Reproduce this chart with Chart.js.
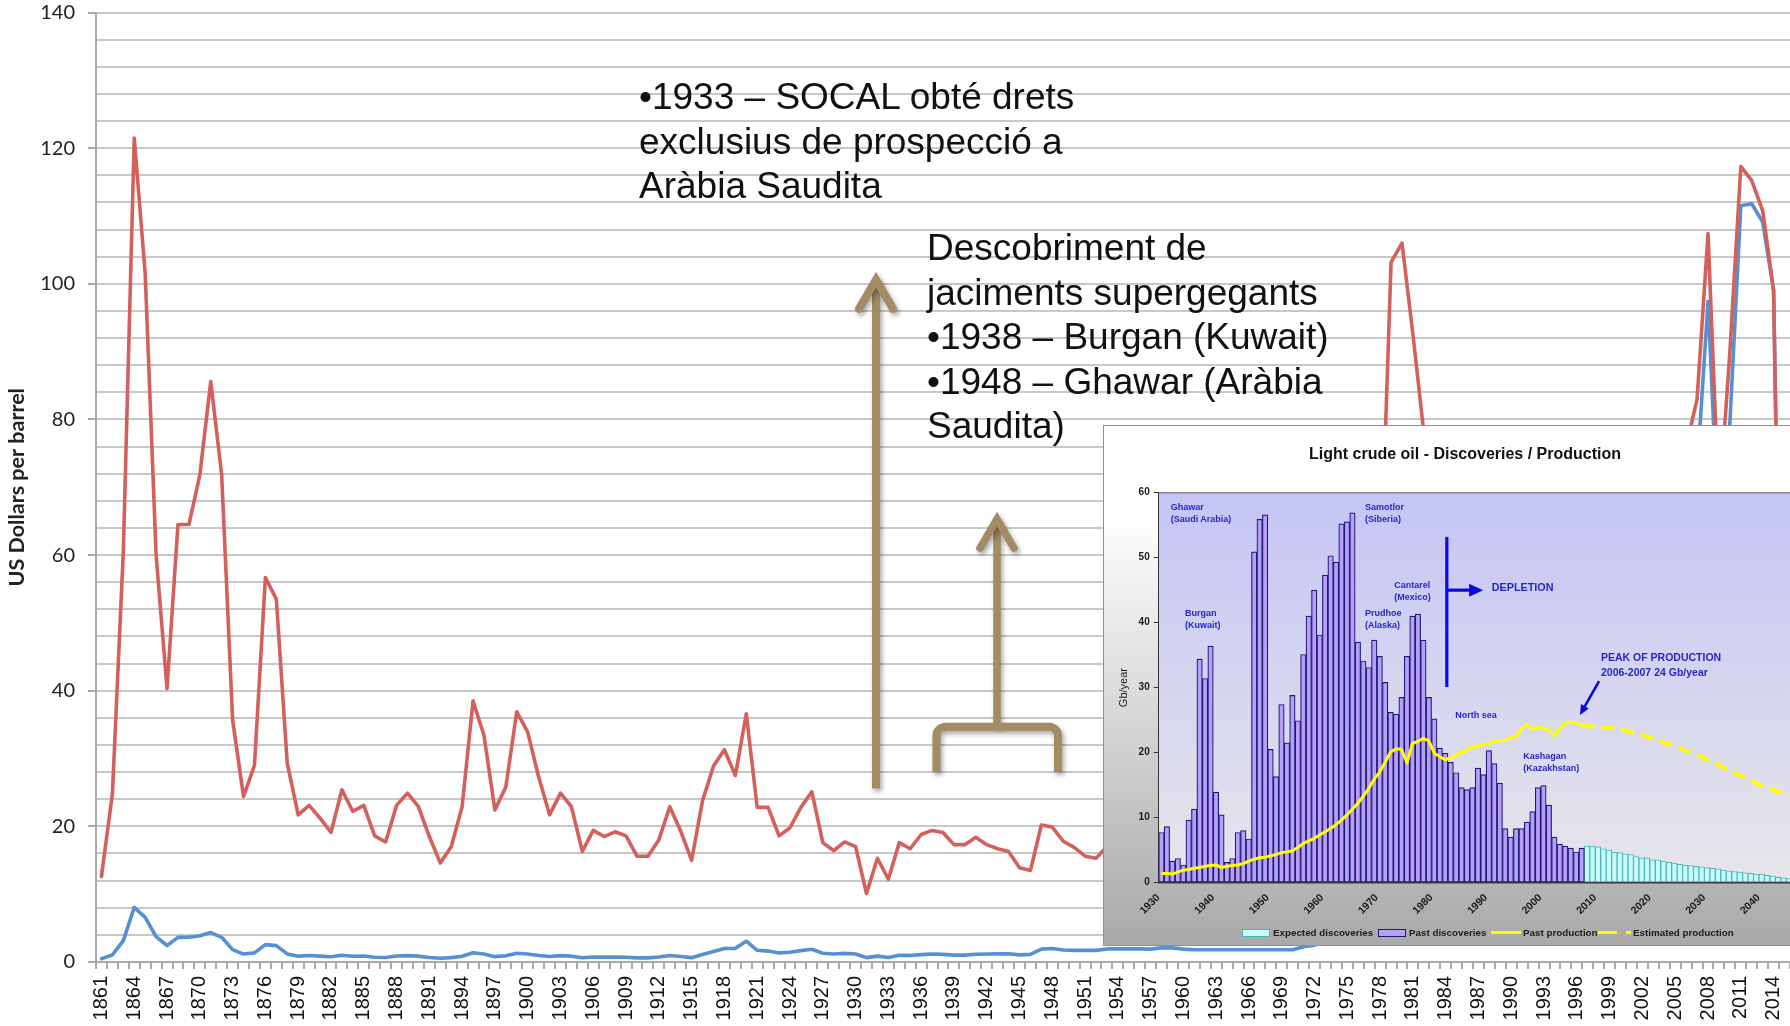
<!DOCTYPE html>
<html>
<head>
<meta charset="utf-8">
<script src="https://cdn.jsdelivr.net/npm/chart.js@4.4.1/dist/chart.umd.min.js"></script>
<style>
html,body{margin:0;padding:0;background:#fff;overflow:hidden;}
body{width:1790px;height:1026px;position:relative;font-family:"Liberation Sans",Arial,sans-serif;}
#c1{position:absolute;left:0;top:0;}
.note{position:absolute;font-family:"Liberation Sans",Arial,sans-serif;font-size:37px;line-height:44.6px;color:#111;white-space:nowrap;}
#inset{position:absolute;left:1104px;top:426px;width:722px;height:519px;outline:1px solid #8f8f8f;
  background:linear-gradient(to bottom,#ffffff 0%,#ffffff 17%,#a9a9a9 100%);}
#c2{position:absolute;left:0;top:0;}
.ititle{position:absolute;left:0;top:18px;width:722px;text-align:center;font-weight:bold;font-size:16px;line-height:20px;color:#111;}
.ann{position:absolute;font-weight:bold;font-size:9px;line-height:11.7px;color:#2626c4;white-space:nowrap;}
.leg{position:absolute;top:500px;font-weight:bold;font-size:9.8px;line-height:13px;color:#1a1a1a;white-space:nowrap;}
.sw{position:absolute;box-sizing:border-box;}
</style>
</head>
<body>
<canvas id="c1" width="1790" height="1026"></canvas>

<div class="note" style="left:639px;top:75px;">•1933 – SOCAL obté drets<br>exclusius de prospecció a<br>Aràbia Saudita</div>
<div class="note" style="left:927px;top:226px;">Descobriment de<br>jaciments supergegants<br>•1938 – Burgan (Kuwait)<br>•1948 – Ghawar (Aràbia<br>Saudita)</div>

<div id="inset">
  <canvas id="c2" width="722" height="519"></canvas>
  <div class="ititle">Light crude oil - Discoveries / Production</div>
  <div class="ann" style="left:66.7px;top:75.9px;">Ghawar<br>(Saudi Arabia)</div>
  <div class="ann" style="left:81px;top:182.2px;">Burgan<br>(Kuwait)</div>
  <div class="ann" style="left:261px;top:76.2px;">Samotlor<br>(Siberia)</div>
  <div class="ann" style="left:290.3px;top:154.2px;">Cantarel<br>(Mexico)</div>
  <div class="ann" style="left:261px;top:182.2px;">Prudhoe<br>(Alaska)</div>
  <div class="ann" style="left:351.3px;top:283.9px;">North sea</div>
  <div class="ann" style="left:419.3px;top:324.9px;">Kashagan<br>(Kazakhstan)</div>
  <div class="ann" style="left:387.7px;top:155px;font-size:10.8px;line-height:13px;">DEPLETION</div>
  <div class="ann" style="left:497px;top:224.4px;font-size:10.5px;line-height:14.6px;">PEAK OF PRODUCTION<br>2006-2007 24 Gb/year</div>

  <div class="sw" style="left:137.7px;top:503px;width:28px;height:7.5px;background:#c8fcfc;border:1px solid #4cb4b4;"></div>
  <div class="leg" style="left:169px;">Expected discoveries</div>
  <div class="sw" style="left:274px;top:503px;width:28px;height:7.5px;background:#b79ff7;border:1.5px solid #1c1c78;"></div>
  <div class="leg" style="left:305px;">Past discoveries</div>
  <div class="sw" style="left:387px;top:505px;width:30px;height:3px;background:#ffff00;"></div>
  <div class="leg" style="left:419px;">Past production</div>
  <div class="sw" style="left:494px;top:504.7px;width:19px;height:3.5px;background:#ffff00;"></div>
  <div class="sw" style="left:522px;top:504.7px;width:5px;height:3.5px;background:#ffff00;"></div>
  <div class="leg" style="left:529px;">Estimated production</div>
</div>

<script>
// ---------------- Main chart data ----------------
const years = [
1861,1862,1863,1864,1865,1866,1867,1868,1869,1870,
1871,1872,1873,1874,1875,1876,1877,1878,1879,1880,
1881,1882,1883,1884,1885,1886,1887,1888,1889,1890,
1891,1892,1893,1894,1895,1896,1897,1898,1899,1900,
1901,1902,1903,1904,1905,1906,1907,1908,1909,1910,
1911,1912,1913,1914,1915,1916,1917,1918,1919,1920,
1921,1922,1923,1924,1925,1926,1927,1928,1929,1930,
1931,1932,1933,1934,1935,1936,1937,1938,1939,1940,
1941,1942,1943,1944,1945,1946,1947,1948,1949,1950,
1951,1952,1953,1954,1955,1956,1957,1958,1959,1960,
1961,1962,1963,1964,1965,1966,1967,1968,1969,1970,
1971,1972,1973,1974,1975,1976,1977,1978,1979,1980,
1981,1982,1983,1984,1985,1986,1987,1988,1989,1990,
1991,1992,1993,1994,1995,1996,1997,1998,1999,2000,
2001,2002,2003,2004,2005,2006,2007,2008,2009,2010,
2011,2012,2013,2014,2015];

// real price (US$ per barrel, constant dollars) - red line
const realPrice = [
12.6,24.8,60.5,121.5,101.5,60.0,40.3,64.5,64.5,71.8,
85.6,71.8,35.7,24.4,29.0,56.7,53.5,29.3,21.7,23.1,
21.2,19.1,25.4,22.2,23.1,18.6,17.7,23.1,24.9,22.9,
18.5,14.6,17.0,22.9,38.5,33.4,22.4,25.8,36.9,33.9,
27.3,21.7,24.9,22.9,16.3,19.4,18.5,19.2,18.6,15.6,
15.6,18.0,22.9,19.3,15.0,23.8,28.9,31.3,27.5,36.6,
22.8,22.8,18.6,19.8,22.8,25.1,17.6,16.4,17.7,17.0,
10.1,15.3,12.2,17.6,16.7,18.8,19.4,19.1,17.3,17.3,
18.4,17.3,16.7,16.3,13.9,13.5,20.2,19.9,17.8,16.9,
15.6,15.3,17.0,17.0,16.9,16.6,15.9,17.0,16.8,15.2,
14.2,14.1,13.9,13.7,13.5,13.1,12.7,12.2,11.6,10.9,
13.0,14.0,17.5,55.4,50.6,53.1,54.2,55.0,103.2,106.0,
92.5,78.0,71.0,66.3,61.3,31.5,38.8,30.2,35.2,43.5,
35.2,33.0,28.1,25.6,26.8,31.6,28.5,18.7,25.9,39.7,
33.1,33.4,37.6,48.6,67.0,76.0,83.0,107.4,67.0,90.0,
117.3,115.2,110.8,99.0,4.0];

// nominal price (money of the day) - blue line
const nominalPrice = [
0.49,1.05,3.15,8.06,6.59,3.74,2.41,3.63,3.64,3.86,
4.34,3.64,1.83,1.17,1.35,2.56,2.42,1.19,0.86,0.95,
0.86,0.78,1.00,0.84,0.88,0.71,0.67,0.88,0.94,0.87,
0.67,0.56,0.64,0.84,1.36,1.18,0.79,0.91,1.29,1.19,
0.96,0.80,0.94,0.86,0.62,0.73,0.72,0.72,0.70,0.61,
0.61,0.74,0.95,0.81,0.64,1.10,1.56,1.98,2.01,3.07,
1.73,1.61,1.34,1.43,1.68,1.88,1.30,1.17,1.27,1.19,
0.65,0.87,0.67,1.00,0.97,1.09,1.18,1.13,1.02,1.02,
1.14,1.19,1.20,1.21,1.05,1.12,1.90,1.99,1.78,1.71,
1.71,1.71,1.93,1.93,1.93,1.93,1.90,2.08,2.08,1.90,
1.80,1.80,1.80,1.80,1.80,1.80,1.80,1.80,1.80,1.80,
2.24,2.48,3.29,11.58,11.53,12.80,13.92,14.02,31.61,36.83,
35.93,32.97,29.55,28.78,27.56,14.43,18.44,14.92,18.23,23.73,
20.00,19.32,16.97,15.82,17.02,20.67,19.09,12.72,17.97,28.50,
24.44,25.02,28.83,38.27,54.52,65.14,72.39,97.4,61.67,79.5,
111.5,111.8,109.1,99.0,4.0];

const xTickLabels = [1861,1864,1867,1870,1873,1876,1879,1882,1885,1888,1891,1894,1897,1900,1903,1906,1909,1912,1915,1918,1921,1924,1927,1930,1933,1936,1939,1942,1945,1948,1951,1954,1957,1960,1963,1966,1969,1972,1975,1978,1981,1984,1987,1990,1993,1996,1999,2002,2005,2008,2011,2014];
const yTickLabels = [0,20,40,60,80,100,120,140];

// annotation shapes, in chart units (year, US$)
const arrowSOCAL = {year:1931.87, from:25.6, to:100.9};
const arrowFields = {year:1942.94, from:34.7, to:65.6};
const bracketFields = {fromYear:1937.4, toYear:1948.52, top:34.7, bottom:28.0};

// ---------------- Inset chart data ----------------
const insetYears = [
1930,1931,1932,1933,1934,1935,1936,1937,1938,1939,
1940,1941,1942,1943,1944,1945,1946,1947,1948,1949,
1950,1951,1952,1953,1954,1955,1956,1957,1958,1959,
1960,1961,1962,1963,1964,1965,1966,1967,1968,1969,
1970,1971,1972,1973,1974,1975,1976,1977,1978,1979,
1980,1981,1982,1983,1984,1985,1986,1987,1988,1989,
1990,1991,1992,1993,1994,1995,1996,1997,1998,1999,
2000,2001,2002,2003,2004,2005,2006,2007,2008,2009,
2010,2011,2012,2013,2014,2015,2016,2017,2018,2019,
2020,2021,2022,2023,2024,2025,2026,2027,2028,2029,
2030,2031,2032,2033,2034,2035,2036,2037,2038,2039,
2040,2041,2042,2043,2044,2045,2046,2047,2048,2049,
2050];
const insetTickLabels = [1930,1940,1950,1960,1970,1980,1990,2000,2010,2020,2030,2040,2050];

// Past discoveries 1930-2007 (Gb/year)
const pastDiscoveriesStart = 1930;
const pastDiscoveries = [
7.7,8.6,3.3,3.7,2.7,9.6,11.3,34.4,31.4,36.4,
13.9,10.4,3.1,3.7,7.7,8.0,6.7,50.9,55.9,56.6,
20.5,16.3,27.4,21.5,28.8,24.9,35.1,41.0,45.0,38.1,
47.3,50.3,49.3,55.2,55.5,56.9,37.0,34.1,33.1,37.3,
34.8,30.8,26.2,25.9,28.5,34.8,41.0,41.3,37.3,28.5,
25.2,20.7,19.9,18.5,16.9,14.6,14.3,14.6,17.6,16.6,
20.3,18.3,15.3,8.3,7.0,8.3,8.3,9.3,10.9,14.6,
14.9,11.9,7.0,5.9,5.6,5.3,4.7,5.3];

// Expected discoveries 2008-2045
const expectedDiscoveriesStart = 2008;
const expectedDiscoveries = [
5.6,5.6,5.5,5.2,5.0,4.7,4.6,4.4,4.3,4.0,
3.8,3.8,3.5,3.5,3.3,3.1,3.0,2.8,2.7,2.6,
2.5,2.4,2.3,2.2,2.1,1.9,1.8,1.7,1.6,1.5,
1.4,1.3,1.3,1.1,1.0,0.8,0.7,0.6];

// Past production 1930-2007
const pastProductionStart = 1930;
const pastProduction = [
1.4,1.4,1.3,1.6,1.9,2.0,2.2,2.3,2.5,2.6,
2.7,2.3,2.5,2.6,2.7,2.9,3.3,3.6,3.8,3.9,
4.1,4.3,4.6,4.7,4.9,5.4,6.0,6.4,6.8,7.3,
7.8,8.3,8.9,9.6,10.4,11.3,12.2,13.3,14.5,15.9,
17.0,18.5,20.1,20.6,20.5,18.4,21.4,21.7,22.2,21.8,
19.9,19.4,18.9,19.2,19.6,20.0,20.4,20.8,21.0,21.2,
21.4,21.7,21.8,21.9,22.3,22.5,23.7,24.3,23.6,23.9,
23.7,23.5,22.5,23.7,24.5,24.7,24.5,24.2];

// Estimated production 2007-2045
const estimatedProductionStart = 2007;
const estimatedProduction = [
24.2,24.1,24.0,23.9,23.8,23.8,23.7,23.6,23.4,23.2,
23.0,22.8,22.5,22.2,21.9,21.6,21.3,21.0,20.7,20.3,
20.0,19.6,19.3,18.9,18.5,18.1,17.7,17.3,16.9,16.5,
16.1,15.7,15.3,14.9,14.6,14.3,14.0,13.7,13.4];

const depletionMark = {year:1982.3, top:53.2, bottom:30.1, arrowY:45.0, arrowTipYear:1988.95};
const peakArrow = {fromYear:2010.2, fromValue:31.0, toYear:2006.7, toValue:25.8};

// ---------------- helpers ----------------
function alignTo(allYears, start, arr){
  return allYears.map(y => { const i = y - start; return (i >= 0 && i < arr.length) ? arr[i] : null; });
}

// ---------------- Main chart ----------------
const brown = '#a38b63';
const arrowsPlugin = {
  id:'arrows',
  afterDatasetsDraw(chart){
    const {ctx, scales:{x, y}} = chart;
    const px = yr => x.getPixelForValue(yr - years[0]);
    ctx.save();
    ctx.strokeStyle = brown;
    ctx.shadowColor = 'rgba(0,0,0,0.35)';
    ctx.shadowBlur = 5; ctx.shadowOffsetX = 2; ctx.shadowOffsetY = 3;
    function upArrow(a, lw){
      const xa = px(a.year), yb = y.getPixelForValue(a.from), yt = y.getPixelForValue(a.to);
      ctx.lineWidth = lw; ctx.lineCap = 'butt';
      ctx.beginPath(); ctx.moveTo(xa, yb); ctx.lineTo(xa, yt + 3); ctx.stroke();
      ctx.lineCap = 'round'; ctx.lineJoin = 'miter';
      ctx.beginPath(); ctx.moveTo(xa - 17, yt + 31); ctx.lineTo(xa, yt + 2); ctx.lineTo(xa + 17, yt + 31); ctx.stroke();
    }
    upArrow(arrowSOCAL, 8);
    upArrow(arrowFields, 7.5);
    // bracket
    const xl = px(bracketFields.fromYear), xr = px(bracketFields.toYear);
    const yt = y.getPixelForValue(bracketFields.top), yb = y.getPixelForValue(bracketFields.bottom);
    const r = 9;
    ctx.lineWidth = 8; ctx.lineCap = 'butt'; ctx.lineJoin = 'round';
    ctx.beginPath();
    ctx.moveTo(xl, yb); ctx.lineTo(xl, yt + r); ctx.arcTo(xl, yt, xl + r, yt, r);
    ctx.lineTo(xr - r, yt); ctx.arcTo(xr, yt, xr, yt + r, r); ctx.lineTo(xr, yb);
    ctx.stroke();
    ctx.restore();
  }
};

new Chart(document.getElementById('c1'), {
  type:'line',
  data:{
    labels: years,
    datasets:[
      {label:'Real price', data: realPrice, borderColor:'#d3605a', borderWidth:3.6, pointRadius:0, tension:0, borderJoinStyle:'round', borderCapStyle:'round'},
      {label:'Nominal price', data: nominalPrice, borderColor:'#5591d2', borderWidth:3.6, pointRadius:0, tension:0, borderJoinStyle:'round', borderCapStyle:'round'}
    ]
  },
  options:{
    responsive:false, animation:false, events:[],
    layout:{padding:{top:12.5, left:0, right:0, bottom:0}},
    plugins:{legend:{display:false}, tooltip:{enabled:false}},
    scales:{
      x:{
        type:'category', offset:true,
        grid:{offset:true, drawOnChartArea:false, drawTicks:true, tickLength:7, color:'#a9a9a9', lineWidth:2},
        border:{display:true, color:'#a9a9a9', width:2},
        ticks:{autoSkip:false, minRotation:90, maxRotation:90, padding:7, color:'#111',
          font:{family:'Liberation Sans', size:20},
          callback:(v,i) => xTickLabels.includes(years[i]) ? String(years[i]) : ''},
        afterFit(s){ s.height = 64; s.paddingLeft = 0; s.paddingRight = 0; }
      },
      y:{
        min:0, max:140,
        ticks:{stepSize:4, autoSkip:false, padding:13, color:'#222', font:{family:'Lato', size:20},
          callback:v => yTickLabels.includes(v) ? String(v) : ''},
        grid:{color:'#c8c8c8', lineWidth:2, tickLength:8,
          tickColor: c => (c.tick && yTickLabels.includes(c.tick.value)) ? '#a9a9a9' : 'rgba(0,0,0,0)'},
        border:{color:'#a9a9a9', width:2},
        title:{display:true, text:'US Dollars per barrel', color:'#222',
          font:{family:'Lato', size:21.5, weight:'bold'}, padding:{top:4, bottom:0}},
        afterFit(s){ s.width = 96; s.paddingTop = 0; s.paddingBottom = 0; }
      }
    }
  },
  plugins:[arrowsPlugin]
});

// ---------------- Inset chart ----------------
const insetBg = {
  id:'insetBg',
  beforeDraw(chart){
    const {ctx, chartArea:{left, top, right, bottom}} = chart;
    ctx.save();
    const g = ctx.createLinearGradient(0, top, 0, bottom);
    g.addColorStop(0, '#c5c5f6');
    g.addColorStop(1, '#e6e6ea');
    ctx.fillStyle = g;
    ctx.fillRect(left, top, right - left, bottom - top);
    ctx.strokeStyle = '#8a8a8a'; ctx.lineWidth = 1.5;
    ctx.beginPath(); ctx.moveTo(left, top); ctx.lineTo(right, top); ctx.stroke();
    ctx.restore();
  }
};
const insetMarks = {
  id:'insetMarks',
  afterDatasetsDraw(chart){
    const {ctx, scales:{x, y}} = chart;
    const px = yr => x.getPixelForValue(yr - insetYears[0]);
    ctx.save();
    ctx.strokeStyle = '#0a0ae0'; ctx.fillStyle = '#0a0ae0';
    // depletion bar
    const xd = px(depletionMark.year);
    ctx.lineWidth = 3.2;
    ctx.beginPath(); ctx.moveTo(xd, y.getPixelForValue(depletionMark.top)); ctx.lineTo(xd, y.getPixelForValue(depletionMark.bottom)); ctx.stroke();
    const ya = y.getPixelForValue(depletionMark.arrowY), xt = px(depletionMark.arrowTipYear);
    ctx.beginPath(); ctx.moveTo(xd, ya); ctx.lineTo(xt - 12, ya); ctx.stroke();
    ctx.beginPath(); ctx.moveTo(xt, ya); ctx.lineTo(xt - 14, ya - 6.5); ctx.lineTo(xt - 14, ya + 6.5); ctx.closePath(); ctx.fill();
    // peak arrow
    const x0 = px(peakArrow.fromYear), y0 = y.getPixelForValue(peakArrow.fromValue);
    const x1 = px(peakArrow.toYear), y1 = y.getPixelForValue(peakArrow.toValue);
    const ang = Math.atan2(y1 - y0, x1 - x0), L = 10, W = 4.5;
    ctx.lineWidth = 2.6;
    ctx.beginPath(); ctx.moveTo(x0, y0); ctx.lineTo(x1 - Math.cos(ang) * (L - 2), y1 - Math.sin(ang) * (L - 2)); ctx.stroke();
    ctx.beginPath();
    ctx.moveTo(x1, y1);
    ctx.lineTo(x1 - Math.cos(ang) * L - Math.sin(ang) * W, y1 - Math.sin(ang) * L + Math.cos(ang) * W);
    ctx.lineTo(x1 - Math.cos(ang) * L + Math.sin(ang) * W, y1 - Math.sin(ang) * L - Math.cos(ang) * W);
    ctx.closePath(); ctx.fill();
    ctx.restore();
  }
};

new Chart(document.getElementById('c2'), {
  type:'bar',
  data:{
    labels: insetYears,
    datasets:[
      {type:'line', label:'Past production', data: alignTo(insetYears, pastProductionStart, pastProduction),
        borderColor:'#ffff00', borderWidth:3, pointRadius:0, tension:0, order:0, spanGaps:false, borderJoinStyle:'round'},
      {type:'line', label:'Estimated production', data: alignTo(insetYears, estimatedProductionStart, estimatedProduction),
        borderColor:'#ffff00', borderWidth:4, borderDash:[13,7], pointRadius:0, tension:0, order:0, spanGaps:false},
      {label:'Past discoveries', data: alignTo(insetYears, pastDiscoveriesStart, pastDiscoveries),
        backgroundColor:'#b79ff7', borderColor:'#1c1c78', borderWidth:1.2, borderSkipped:false,
        grouped:false, barPercentage:1, categoryPercentage:1, order:1},
      {label:'Expected discoveries', data: alignTo(insetYears, expectedDiscoveriesStart, expectedDiscoveries),
        backgroundColor:'#c8fcfc', borderColor:'#4cb4b4', borderWidth:1, borderSkipped:false,
        grouped:false, barPercentage:1, categoryPercentage:1, order:1}
    ]
  },
  options:{
    responsive:false, animation:false, events:[],
    layout:{padding:{top:66.7, left:0, right:7, bottom:0}},
    plugins:{legend:{display:false}, tooltip:{enabled:false}},
    scales:{
      x:{
        offset:true,
        grid:{display:false, drawTicks:false},
        border:{display:true, color:'#3a3a3a', width:1.5},
        ticks:{autoSkip:false, minRotation:45, maxRotation:45, padding:9, labelOffset:-3, color:'#1a1a1a',
          font:{family:'Liberation Sans', size:10.5, weight:'bold'},
          callback:(v,i) => insetTickLabels.includes(insetYears[i]) ? String(insetYears[i]) : ''},
        afterFit(s){ s.height = 62.5; s.paddingLeft = 0; s.paddingRight = 0; }
      },
      y:{
        min:0, max:60,
        ticks:{stepSize:10, autoSkip:false, padding:4, color:'#1a1a1a', font:{family:'Liberation Sans', size:10, weight:'bold'}},
        grid:{drawOnChartArea:false, tickLength:5, color:'#333'},
        border:{color:'#333', width:1},
        title:{display:true, text:'Gb/year', color:'#1a1a1a', font:{family:'Liberation Sans', size:11}, padding:{top:13, bottom:0}},
        afterFit(s){ s.width = 54.7; s.paddingTop = 0; s.paddingBottom = 0; }
      }
    }
  },
  plugins:[insetBg, insetMarks]
});
</script>
</body>
</html>
